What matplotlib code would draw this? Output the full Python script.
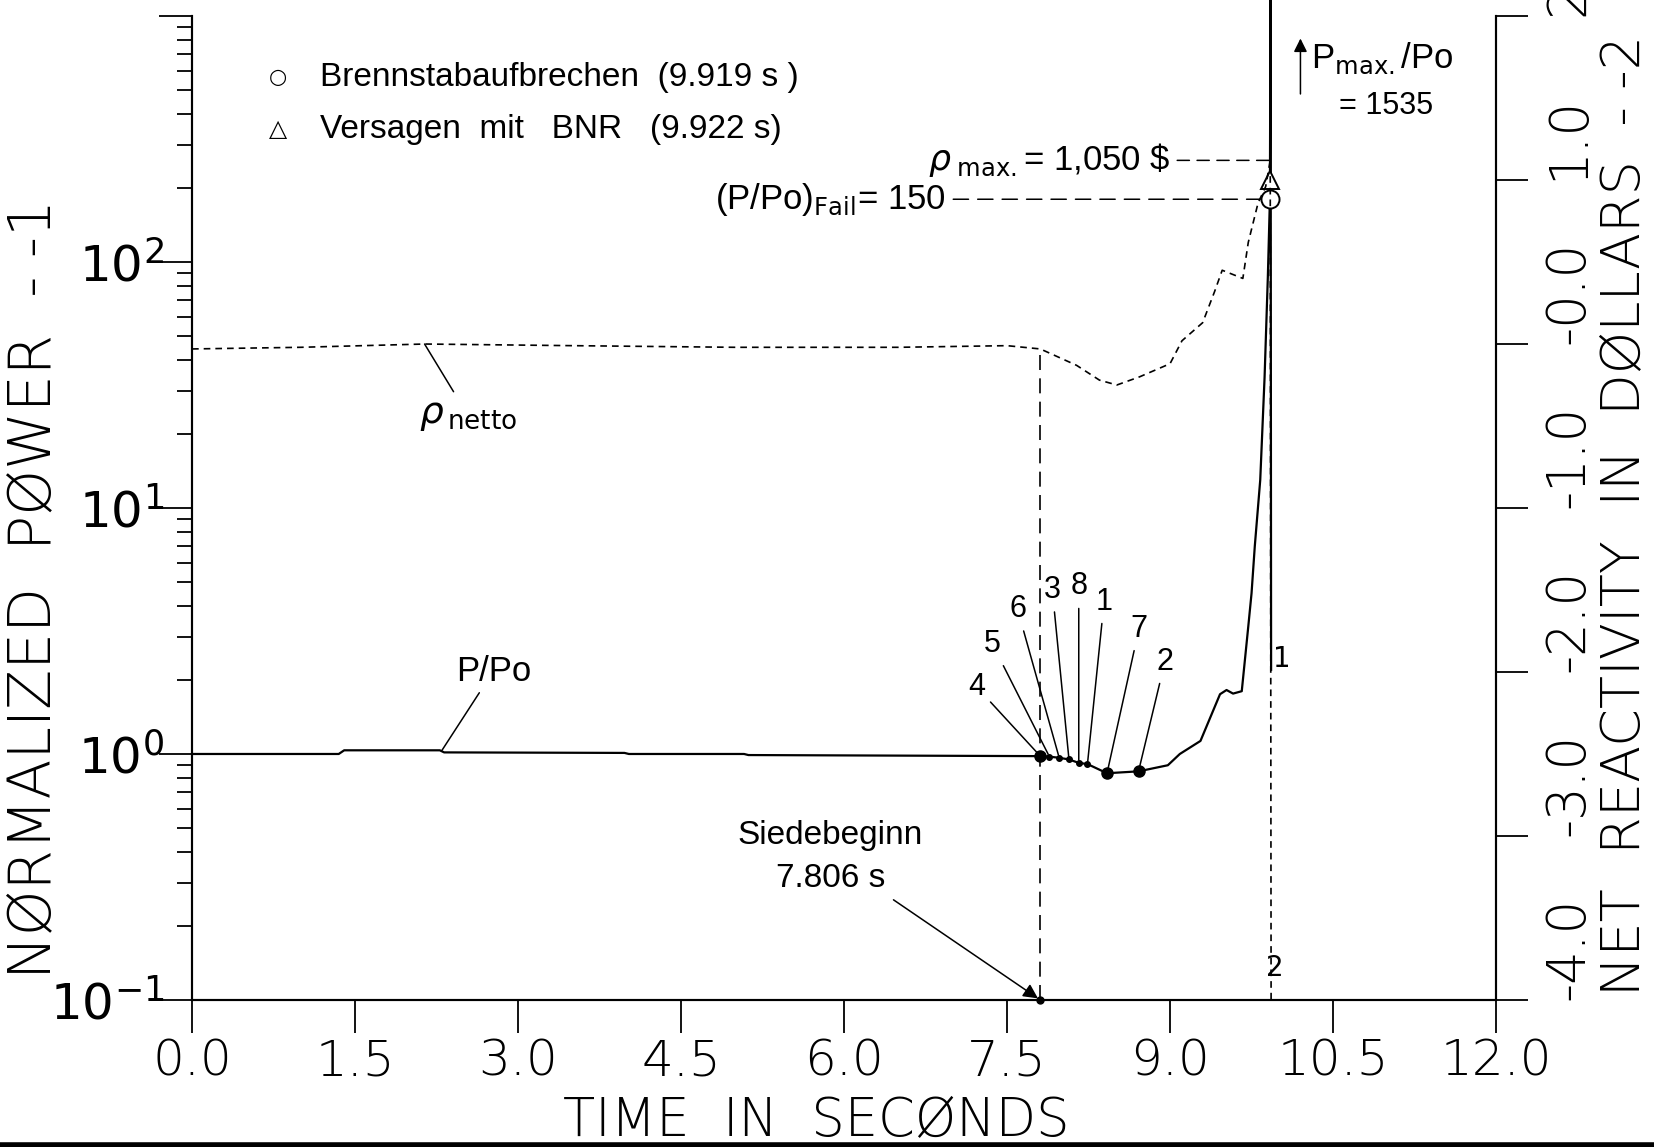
import numpy as np
import matplotlib
matplotlib.use('Agg')
from matplotlib import pyplot as plt
from matplotlib.ticker import FixedLocator, LogLocator, NullFormatter
from matplotlib.lines import Line2D
matplotlib.rcParams['axes.unicode_minus'] = False

# --- data ---
time_p = [0.0, 1.35, 1.40, 2.28, 2.32, 3.98, 4.02, 5.08, 5.12, 7.806, 7.89, 7.98,
          8.07, 8.16, 8.24, 8.42, 8.71, 8.82, 8.98, 9.09, 9.28, 9.46, 9.52, 9.58,
          9.66, 9.72, 9.75, 9.78, 9.83, 9.87, 9.90, 9.919, 9.925, 9.93]
p_po = [1.0, 1.0, 1.035, 1.035, 1.015, 1.01, 1.0, 1.0, 0.99, 0.98, 0.975, 0.965,
        0.95, 0.92, 0.91, 0.835, 0.85, 0.87, 0.90, 1.0, 1.13, 1.75, 1.82, 1.76,
        1.80, 3.3, 4.5, 7.0, 13.0, 34.0, 87.0, 180.0, 1535.0, 2.2]

time_rho = [0.0, 1.0, 2.14, 3.5, 5.0, 6.5, 7.5, 7.806, 7.89, 8.14, 8.35, 8.51, 8.72,
            9.00, 9.11, 9.30, 9.41, 9.48, 9.67, 9.72, 9.81, 9.88, 9.922, 9.93]
rho_net = [-0.03, -0.02, 0.0, -0.01, -0.02, -0.02, -0.01, -0.03, -0.055, -0.13,
           -0.22, -0.25, -0.20, -0.12, 0.02, 0.13, 0.32, 0.45, 0.40, 0.62, 0.86,
           0.96, 1.12, -4.0]

# numbered points on P/Po after boiling onset
dot_t = [7.806, 7.89, 7.98, 8.07, 8.16, 8.24, 8.42, 8.71]
dot_p = [0.98, 0.975, 0.965, 0.95, 0.92, 0.91, 0.835, 0.85]
dot_lbl = ['4', '5', '6', '3', '8', '1', '7', '2']
dot_big = [True, False, False, False, False, False, True, True]
dot_off = [(-46, 50), (-41, 81), (-30, 107), (-12, 122), (0, 127), (12, 117), (23, 104), (19, 79)]

t_boil = 7.806
t_fail, p_fail = 9.919, 180.0      # Brennstabaufbrechen
t_bnr, p_bnr = 9.922, 215.0        # Versagen mit BNR
t_rhomax, rho_max = 9.922, 1.12

x_ticks = [0.0, 1.5, 3.0, 4.5, 6.0, 7.5, 9.0, 10.5, 12.0]
x_tick_labels = ['0.0', '1.5', '3.0', '4.5', '6.0', '7.5', '9.0', '10.5', '12.0']
y_ticks = [0.1, 1, 10, 100, 1000]
y_tick_labels = [r'$10^{-1}$', r'$10^{0}$', r'$10^{1}$', r'$10^{2}$', '']
r_ticks = [-4, -3, -2, -1, 0, 1, 2]
r_tick_labels = ['-4.0', '-3.0', '-2.0', '-1.0', '-0.0', '1.0', '2.0']

plot_font = 'DejaVu Sans'
note_font = ['Liberation Sans', 'DejaVu Sans']

fig = plt.figure(figsize=(16.54, 11.47), dpi=100)
ax = fig.add_axes([0.1161, 0.1282, 0.7884, 0.8578])
ax.set_yscale('log')
ax.set_xlim(0, 12)
ax.set_ylim(0.1, 1000)
ax2 = ax.twinx()
ax2.set_ylim(-4, 2)

for a in (ax, ax2):
    a.spines['top'].set_visible(False)
    for s in a.spines.values():
        s.set_linewidth(1.5)

# curves
ax.plot(time_p, p_po, color='k', lw=1.6, clip_on=False, zorder=3)
ax2.plot(time_rho, rho_net, color='k', lw=1.2, linestyle=(0, (4, 3)), zorder=3)
ax2.plot([t_boil, t_boil], [-4, rho_net[time_rho.index(t_boil)]], color='k', lw=1.2,
         linestyle=(0, (9, 5)))

# points
for t, p, big in zip(dot_t, dot_p, dot_big):
    ax.plot(t, p, 'o', color='k', ms=8 if big else 4, zorder=4)
ax.plot(t_boil, 0.1, 'o', color='k', ms=5, clip_on=False, zorder=4)
ax.plot(t_fail, p_fail, 'o', mfc='white', mec='k', mew=1.4, ms=13, zorder=5)
ax.plot(t_bnr, p_bnr, '^', mfc='white', mec='k', mew=1.4, ms=13, zorder=5)

for t, p, lbl, off in zip(dot_t, dot_p, dot_lbl, dot_off):
    ax.annotate(lbl, xy=(t, p), xytext=off, textcoords='offset points',
                ha='center', va='center', fontsize=22, family=note_font,
                arrowprops=dict(arrowstyle='-', lw=1.1, color='k', shrinkA=3, shrinkB=2))

# annotations
ax.annotate('P/Po', xy=(2.30, 1.035), xytext=(37, 57), textcoords='offset points',
            ha='center', va='center', fontsize=25, family=note_font,
            arrowprops=dict(arrowstyle='-', lw=1.1, color='k', shrinkA=2, shrinkB=0))
ax2.annotate(r'$\rho_{\,\mathrm{netto}}$', xy=(2.14, 0.0), xytext=(31, -51),
             textcoords='offset points', ha='center', va='center', fontsize=27,
             arrowprops=dict(arrowstyle='-', lw=1.1, color='k', shrinkA=2, shrinkB=0))
ax.annotate('Siedebeginn\n7.806 s', xy=(t_boil, 0.1), xytext=(-151, 103),
            textcoords='offset points', ha='center', va='center', fontsize=24,
            family=note_font, linespacing=1.5,
            arrowprops=dict(arrowstyle='-|>', lw=1.1, color='k', mutation_scale=22,
                            shrinkA=4, shrinkB=2))
ax2.annotate(r'$\rho_{\;\mathrm{max.}}$= 1,050 \$', xy=(t_rhomax, rho_max), xytext=(-72, 0),
             textcoords='offset points', ha='right', va='center', fontsize=25,
             family=note_font,
             arrowprops=dict(arrowstyle='-', lw=1.1, color='k', linestyle=(0, (8, 5)),
                             shrinkA=3, shrinkB=0))
ax.annotate(r'(P/Po)$_{\mathrm{Fail}}$= 150', xy=(t_fail, p_fail), xytext=(-233, 0),
            textcoords='offset points', ha='right', va='center', fontsize=25,
            family=note_font,
            arrowprops=dict(arrowstyle='-', lw=1.1, color='k', linestyle=(0, (10, 6)),
                            shrinkA=3, shrinkB=7))
ax.annotate('1', xy=(time_p[-1], p_po[-1]), xytext=(8, 8), textcoords='offset points',
            ha='center', va='center', fontsize=20, family=plot_font)
ax2.annotate('2', xy=(time_rho[-1], rho_net[-1]), xytext=(3, 23), textcoords='offset points',
             ha='center', va='center', fontsize=20, family=plot_font)

# P max indicator
ax.annotate('', xy=(0.850, 0.980), xytext=(0.850, 0.918), xycoords='axes fraction',
            arrowprops=dict(arrowstyle='-|>', lw=1.1, color='k', mutation_scale=20))
ax.text(0.913, 0.957, r'P$_{\mathrm{max.}}$/Po', transform=ax.transAxes, ha='center',
        va='center', fontsize=25, family=note_font)
ax.text(0.916, 0.909, '= 1535', transform=ax.transAxes, ha='center', va='center',
        fontsize=22, family=note_font)

# key
ax.text(0.066, 0.938, '○', transform=ax.transAxes, ha='center', va='center', fontsize=15,
        family='DejaVu Sans')
ax.text(0.098, 0.938, 'Brennstabaufbrechen  (9.919 s )', transform=ax.transAxes,
        ha='left', va='center', fontsize=24, family=note_font)
ax.text(0.066, 0.885, '△', transform=ax.transAxes, ha='center', va='center', fontsize=17,
        family='DejaVu Sans')
ax.text(0.098, 0.885, 'Versagen  mit   BNR   (9.922 s)', transform=ax.transAxes,
        ha='left', va='center', fontsize=24, family=note_font)

# axes
ax.set_xticks(x_ticks, labels=x_tick_labels)
ax.yaxis.set_major_locator(FixedLocator(y_ticks))
ax.set_yticklabels(y_tick_labels)
ax.yaxis.set_minor_locator(LogLocator(base=10, subs=np.arange(2, 10)))
ax.yaxis.set_minor_formatter(NullFormatter())
ax.tick_params(axis='x', direction='out', length=24, width=1.3, pad=3, labelsize=36)
ax.tick_params(axis='y', which='major', length=24, width=1.3, pad=-4, labelsize=36)
ax.tick_params(axis='y', which='minor', length=11, width=1.3)
for lab in ax.get_xticklabels() + ax.get_yticklabels():
    lab.set_family(plot_font)
    lab.set_fontweight('light')

ax2.set_yticks(r_ticks)
ax2.set_yticklabels(r_tick_labels, rotation=90, rotation_mode='anchor', ha='left', va='center',
                    family=plot_font, fontweight='light')
ax2.tick_params(axis='y', length=23, width=1.3, pad=29, labelsize=38)

ax.set_xlabel('TIME  IN  SECØNDS', fontsize=38, family=plot_font, fontweight='light',
              va='center', ha='center')
ax.xaxis.set_label_coords(0.479, -0.123)
ax.set_ylabel('NØRMALIZED  PØWER  - -1', fontsize=42, family=plot_font, fontweight='light',
              va='center', ha='center')
ax.yaxis.set_label_coords(-0.121, 0.418)
ax2.set_ylabel('NET  REACTIVITY  IN  DØLLARS  - -2', fontsize=39, family=plot_font,
               fontweight='light', va='center', ha='center')
ax2.yaxis.set_label_coords(1.099, 0.492)

fig.add_artist(Line2D([0, 1], [0.002, 0.002], transform=fig.transFigure, color='k', lw=4))

fig.savefig('out.png', dpi=100)
